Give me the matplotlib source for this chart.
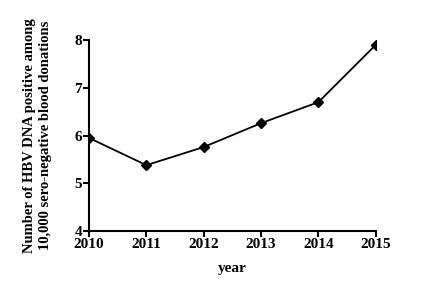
import numpy as np
import matplotlib
matplotlib.use("Agg")
from matplotlib import pyplot as plt

years = [2010, 2011, 2012, 2013, 2014, 2015]
counts = [5.95, 5.38, 5.76, 6.26, 6.70, 7.90]

plt.rcParams['font.family'] = 'Liberation Serif'
plt.rcParams['font.weight'] = 'bold'

fig = plt.figure(figsize=(4.3, 2.86), dpi=100)
ax = fig.add_axes([0.207, 0.192, 0.667, 0.668])

ax.plot(years, counts, color='black', lw=1.3, marker='D', ms=5.5)

ax.set_xlim(2010, 2015)
ax.set_ylim(4, 8)
ax.set_xticks(years)
ax.set_yticks([4, 5, 6, 7, 8])
for s in ['top', 'right']:
    ax.spines[s].set_visible(False)
for s in ['left', 'bottom']:
    ax.spines[s].set_linewidth(1.5)
ax.tick_params(direction='out', length=4, width=1.5, labelsize=11, pad=1)
ax.set_xlabel('year', fontsize=11, fontweight='bold', labelpad=8)
ax.set_ylabel('Number of HBV DNA positive among\n10,000 sero-negative blood donations',
              fontsize=10.5, fontweight='bold', labelpad=16, linespacing=1.3)

fig.savefig('out.png', dpi=100)
